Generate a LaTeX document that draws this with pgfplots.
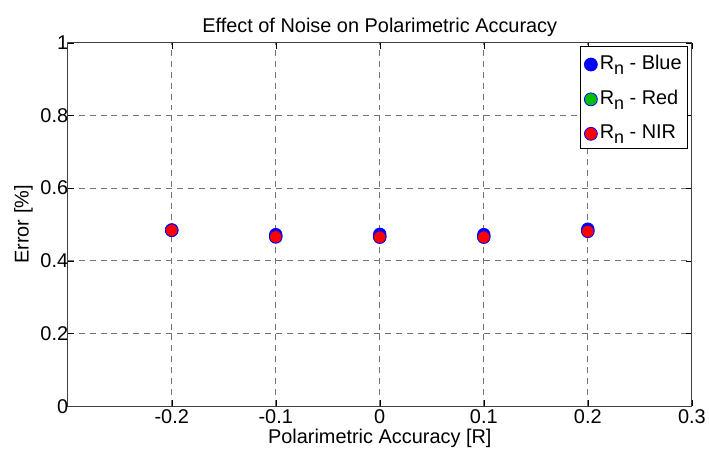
\documentclass[border=0pt]{standalone}
\usepackage{fontspec}
\setmainfont{Liberation Sans}
\usepackage{pgfplots}
\pgfplotsset{compat=1.18}
\definecolor{mblue}{RGB}{0,0,255}
\definecolor{mgreen}{RGB}{0,190,0}
\definecolor{mred}{RGB}{255,0,0}
\newcommand{\figfont}{\fontsize{20}{23}\selectfont}
\newcommand{\Rn}{R\raisebox{-0.45ex}{\fontsize{18}{20}\selectfont n}}
\begin{document}
\begin{tikzpicture}
\begin{axis}[
    width=627pt, height=365pt,
    scale only axis,
    xmin=-0.3, xmax=0.3,
    ymin=0, ymax=1,
    xtick={-0.2,-0.1,0,0.1,0.2,0.3},
    ytick={0,0.2,0.4,0.6,0.8,1},
    xticklabels={-0.2,-0.1,0,0.1,0.2,0.3},
    yticklabels={0,0.2,0.4,0.6,0.8,1},
    tick align=inside,
    tick style={black, thin},
    major tick length=6pt,
    grid=major,
    major grid style={black!55, dash pattern=on 6pt off 5pt, line width=0.8pt},
    axis line style={black!75, line width=1pt},
    ticklabel style={font=\figfont},
    xticklabel style={yshift=0pt},
    yticklabel style={xshift=4pt},
    title={Effect of Noise on Polarimetric Accuracy},
    title style={font=\figfont, yshift=-3pt},
    xlabel={Polarimetric Accuracy [R]},
    ylabel={Error [\%]},
    label style={font=\figfont},
    xlabel style={yshift=2pt},
    ylabel style={yshift=1pt},
    legend style={at={(0.994,0.992)}, anchor=north east,
        font=\figfont, draw=black, line width=1pt,
        row sep=15pt, inner xsep=4pt, inner ysep=7pt},
    legend cell align=left,
    legend image code/.code={\draw[#1] (0.12cm,-0.05cm) circle (6.5pt);},
]
\addplot[only marks, mark=*, mark size=6.3pt, draw=mblue, fill=mblue, line width=0.8pt]
    coordinates {(-0.2,0.485) (-0.1,0.472) (0,0.473) (0.1,0.472) (0.2,0.487)};
\addplot[only marks, mark=*, mark size=6.3pt, draw=mblue, fill=mgreen, line width=0.8pt]
    coordinates {(-0.2,0.484) (-0.1,0.466) (0,0.466) (0.1,0.466) (0.2,0.482)};
\addplot[only marks, mark=*, mark size=6.3pt, draw=mblue, fill=mred, line width=0.8pt]
    coordinates {(-0.2,0.484) (-0.1,0.466) (0,0.465) (0.1,0.465) (0.2,0.481)};
\legend{\Rn{} - Blue, \Rn{} - Red, \Rn{} - NIR}
\end{axis}
\path (current axis.south west) ++(-68pt,-45pt);
\path (current axis.north east) ++(14pt,43pt);
\end{tikzpicture}
\end{document}
